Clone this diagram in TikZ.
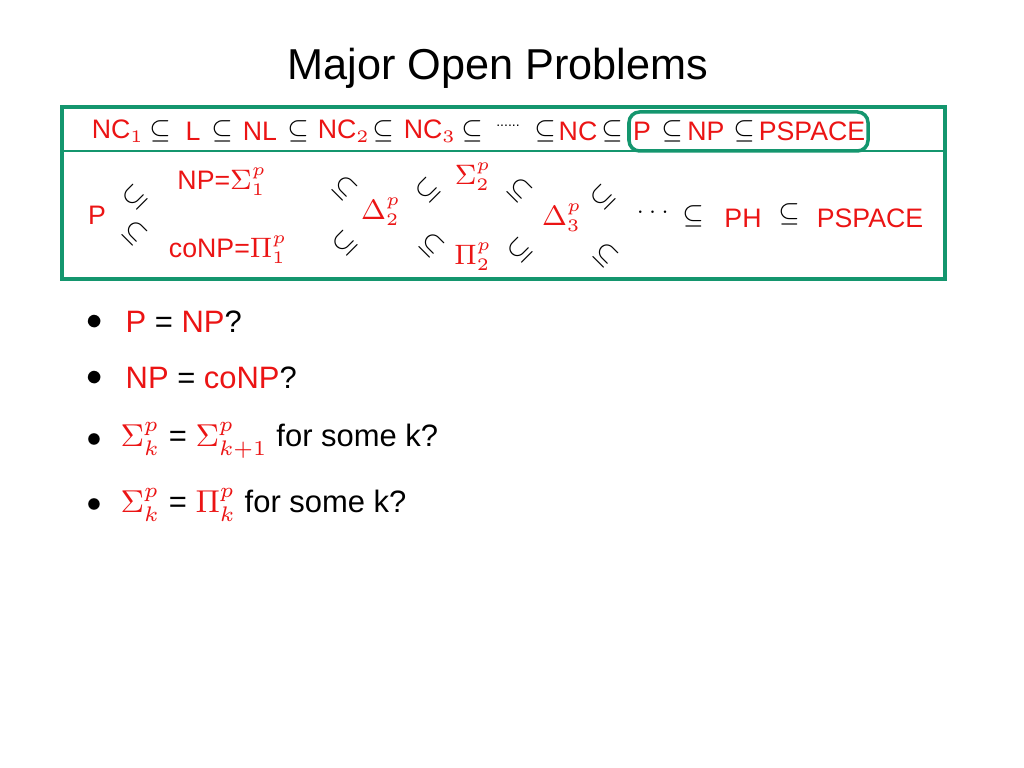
\documentclass[tikz,border=0pt]{standalone}
\usepackage{fontspec}
\setmainfont{Liberation Sans}
\usepackage{amsmath}
\usepackage{amssymb}
\definecolor{boxgreen}{RGB}{20,150,110}
\definecolor{txtred}{RGB}{235,20,20}
\tikzset{>=latex,
  cls/.style={text=txtred, font=\fontsize{7.6}{9}\selectfont, inner sep=0pt},
  sub/.style={font=\fontsize{7}{8}\selectfont, inner sep=0pt},
  item/.style={font=\fontsize{8.8}{10}\selectfont, inner sep=0pt, anchor=west}}
\begin{document}
\begin{tikzpicture}[x=0.01cm, y=-0.01cm]
  \useasboundingbox (0,0) rectangle (1024,768);

  % title
  \node[font=\fontsize{12.3}{14}\selectfont] (title) at (498,68) {Major Open Problems};

  % frame
  \draw[boxgreen, line width=1pt] (62,107) rectangle (945,279);
  \draw[boxgreen, line width=0.5pt] (62,151) -- (945,151);
  \draw[boxgreen, line width=1pt, rounded corners=3pt] (629,112) rectangle (868,151);

  % first row
  \node[cls] (nc1) at (118,131) {NC$_1$};
  \node[sub] (s1) at (160,131) {$\subseteq$};
  \node[cls] (l) at (193,131) {L};
  \node[sub] (s2) at (222,131) {$\subseteq$};
  \node[cls] (nl) at (260,131) {NL};
  \node[sub] (s3) at (298,131) {$\subseteq$};
  \node[cls] (nc2) at (344,131) {NC$_2$};
  \node[sub] (s4) at (383,131) {$\subseteq$};
  \node[cls] (nc3) at (430,131) {NC$_3$};
  \node[sub] (s5) at (472,131) {$\subseteq$};
  \node[font=\fontsize{4}{5}\selectfont, inner sep=0pt] (dots) at (508,126) {......};
  \node[sub] (s6) at (545,131) {$\subseteq$};
  \node[cls] (nc) at (578,131) {NC};
  \node[sub] (s7) at (612,131) {$\subseteq$};
  \node[cls] (p1) at (642,131) {P};
  \node[sub] (s8) at (672,131) {$\subseteq$};
  \node[cls] (np1) at (706,131) {NP};
  \node[sub] (s9) at (744,131) {$\subseteq$};
  \node[cls] (ps1) at (812,131) {PSPACE};

  % hierarchy row
  \node[cls] (p) at (97,215) {P};
  \node[cls] (np) at (222,182) {NP=$\Sigma_1^p$};
  \node[cls] (conp) at (228,250) {coNP=$\Pi_1^p$};
  \node[cls] (d2) at (381,212) {$\Delta_2^p$};
  \node[cls] (sg2) at (473,177) {$\Sigma_2^p$};
  \node[cls] (pi2) at (473,257) {$\Pi_2^p$};
  \node[cls] (d3) at (562,218) {$\Delta_3^p$};
  \node[inner sep=0pt, font=\fontsize{6}{7}\selectfont] (more) at (655,212) {$\cdots$};
  \node[sub] (t1) at (693,216) {$\subseteq$};
  \node[cls] (ph) at (743,218) {PH};
  \node[sub] (t2) at (789,214) {$\subseteq$};
  \node[cls] (ps2) at (870,218) {PSPACE};

  \foreach \x/\y/\a in {135/197/45, 135/233/-45, 345/188/-45, 345/243/45,
      428/190/45, 432/245/-45, 520/190/-45, 520/250/45, 603/197/45, 606/255/-45}
    \node[sub, rotate=\a] at (\x,\y) {$\subseteq$};

  % questions
  \node[item] (b1) at (86,322) {$\bullet$};
  \node[item] (q1) at (125,322) {\textcolor{txtred}{P} = \textcolor{txtred}{NP}?};
  \node[item] (b2) at (86,378) {$\bullet$};
  \node[item] (q2) at (125,378) {\textcolor{txtred}{NP} = \textcolor{txtred}{coNP}?};
  \node[item] (b3) at (86,440) {\footnotesize$\bullet$};
  \node[item] (q3) at (120,440) {\textcolor{txtred}{$\Sigma_k^p$} = \textcolor{txtred}{$\Sigma_{k+1}^p$} for some k?};
  \node[item] (b4) at (86,505) {\footnotesize$\bullet$};
  \node[item] (q4) at (120,505) {\textcolor{txtred}{$\Sigma_k^p$} = \textcolor{txtred}{$\Pi_k^p$} for some k?};
\end{tikzpicture}
\end{document}
